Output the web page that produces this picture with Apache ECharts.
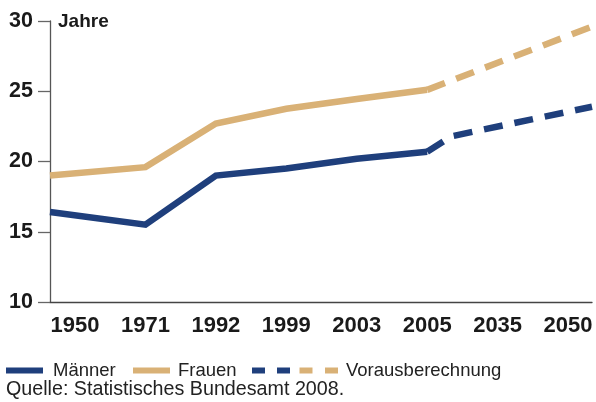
<!DOCTYPE html>
<html>
<head>
<meta charset="utf-8">
<script src="https://cdn.jsdelivr.net/npm/echarts@6/dist/echarts.min.js"></script>
<style>
  html, body { margin: 0; padding: 0; background: #fff; }
  #chart { width: 596px; height: 402px; }
</style>
</head>
<body>
<div id="chart"></div>
<script>
// Kategorien (x-Achse) und Werte in Jahren
const years = ["1950", "1971", "1992", "1999", "2003", "2005", "2035", "2050"];
const maenner = [16.4, 15.5, 19.0, 19.5, 20.2, 20.7];
const frauen = [19.0, 19.6, 22.7, 23.75, 24.45, 25.1];
// Vorausberechnung ab 2005
const maennerProjection = [20.7, 21.8, 23.9];
const frauenProjection = [25.1, 29.6];
const yTicks = [10, 15, 20, 25, 30];

// die Linien laufen bis an den Rand der Zeichenfläche
const xMin = -0.355;
const xMax = 7.34;
const maennerProjX = [5, 5.35, xMax];
const frauenProjX = [5, xMax];

const NAVY = "#1f3f7c";
const TAN = "#d9b176";
const FONT = "Liberation Sans, Arial, sans-serif";

const toPairs = (xs, ys) => ys.map((v, i) => [xs[i], v]);
const mainX = years.slice(0, 6).map((_, i) => (i === 0 ? xMin : i));

const lineSeries = (name, data, color, dashed) => ({
  name: name,
  type: "line",
  data: data,
  symbol: "none",
  silent: true,
  animation: false,
  lineStyle: {
    color: color,
    width: 6.5,
    type: dashed ? [19, 12] : "solid",
    cap: "butt",
    join: "miter",
  },
});

const chart = echarts.init(document.getElementById("chart"));
chart.setOption({
  animation: false,
  grid: { left: 50, right: 4, top: 21, bottom: 100 },
  xAxis: {
    type: "value",
    min: xMin,
    max: xMax,
    axisLine: { show: true, onZero: false, lineStyle: { color: "#444", width: 1.3 } },
    axisTick: { show: false },
    splitLine: { show: false },
    axisLabel: {
      customValues: years.map((_, i) => i),
      formatter: (v) => years[Math.round(v)],
      fontFamily: FONT,
      fontSize: 22,
      fontWeight: "bold",
      color: "#1a1a1a",
      margin: 13,
    },
  },
  yAxis: {
    type: "value",
    min: 10,
    max: 30,
    interval: 5,
    axisLine: { show: true, onZero: false, lineStyle: { color: "#555", width: 1.3 } },
    axisTick: { show: true, length: 12, lineStyle: { color: "#666", width: 1.3 } },
    splitLine: { show: false },
    axisLabel: {
      customValues: yTicks,
      fontFamily: FONT,
      fontSize: 21.5,
      fontWeight: "bold",
      color: "#1a1a1a",
      margin: 17,
    },
  },
  series: [
    lineSeries("Frauen", toPairs(mainX, frauen), TAN, false),
    lineSeries("Frauen Vorausberechnung", toPairs(frauenProjX, frauenProjection), TAN, true),
    lineSeries("Männer", toPairs(mainX, maenner), NAVY, false),
    lineSeries("Männer Vorausberechnung", toPairs(maennerProjX, maennerProjection), NAVY, true),
  ],
  graphic: [
    {
      type: "text",
      left: 58,
      top: 12,
      style: { text: "Jahre", font: "bold 19px " + FONT, fill: "#1a1a1a" },
    },
    // Legende
    { type: "rect", shape: { x: 6, y: 367.5, width: 37, height: 6 }, style: { fill: NAVY } },
    {
      type: "text", x: 53, y: 370.5,
      style: { text: "Männer", font: "18.5px " + FONT, fill: "#222", verticalAlign: "middle" },
    },
    { type: "rect", shape: { x: 133, y: 367.5, width: 37, height: 6 }, style: { fill: TAN } },
    {
      type: "text", x: 178, y: 370.5,
      style: { text: "Frauen", font: "18.5px " + FONT, fill: "#222", verticalAlign: "middle" },
    },
    { type: "rect", shape: { x: 252, y: 367.5, width: 13, height: 6 }, style: { fill: NAVY } },
    { type: "rect", shape: { x: 277, y: 367.5, width: 13, height: 6 }, style: { fill: NAVY } },
    { type: "rect", shape: { x: 299.5, y: 367.5, width: 13, height: 6 }, style: { fill: TAN } },
    { type: "rect", shape: { x: 325, y: 367.5, width: 13, height: 6 }, style: { fill: TAN } },
    {
      type: "text", x: 346, y: 370.5,
      style: { text: "Vorausberechnung", font: "18.5px " + FONT, fill: "#222", verticalAlign: "middle" },
    },
    {
      type: "text", x: 6, y: 389.5,
      style: { text: "Quelle: Statistisches Bundesamt 2008.", font: "19.7px " + FONT, fill: "#222", verticalAlign: "middle" },
    },
  ],
});
</script>
</body>
</html>
